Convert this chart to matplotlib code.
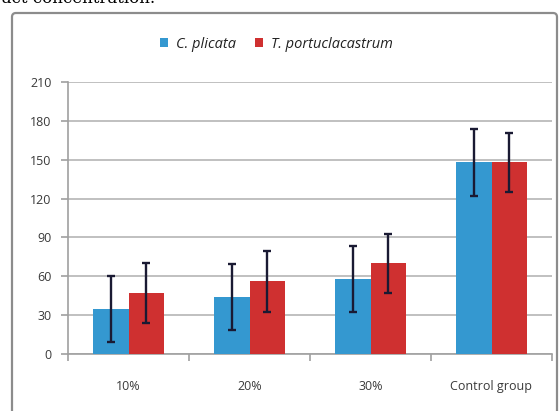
import matplotlib
matplotlib.use("Agg")
import matplotlib.pyplot as plt
import numpy as np
from matplotlib.patches import FancyBboxPatch

categories = ["10%", "20%", "30%", "Control group"]
series_names = ["C. plicata", "T. portuclacastrum"]
c_plicata = [35, 44, 58, 148]
c_plicata_err = [25.5, 25.5, 25.5, 26]
t_port = [47, 56, 70, 148]
t_port_err = [23, 23.5, 23, 23]
yticks = [0, 30, 60, 90, 120, 150, 180, 210]

W, H = 559, 411
fig = plt.figure(figsize=(W / 100, H / 100), dpi=100)
fig.patch.set_facecolor("white")

# background axes holding the outer chart frame
bg = fig.add_axes([0, 0, 1, 1], zorder=-10)
bg.set_xlim(0, W)
bg.set_ylim(H, 0)
bg.axis("off")
frame = FancyBboxPatch((12, 13), 557 - 12, H + 20,
                       boxstyle="round,pad=0,rounding_size=4",
                       facecolor="white", edgecolor="#8c8c8c", linewidth=1.6)
bg.add_patch(frame)

# caption fragment at top (cut off in the reference)
fig.text(155 / W, 1 + 10 / H, "tract concentration.", ha="right", va="top",
         fontsize=12, family="DejaVu Serif", color="black")

ax = fig.add_axes([68 / W, 1 - 354 / H, (552 - 68) / W, (354 - 82) / H])
ax.set_facecolor("none")

x = np.arange(len(categories))
bw = 0.29
blue = "#3498d0"
red = "#cf3030"
err_kw = dict(ecolor="#1a1a33", elinewidth=1.7, capsize=3.2, capthick=1.7)
ax.bar(x - bw / 2, c_plicata, bw, color=blue, yerr=c_plicata_err, error_kw=err_kw,
       label=series_names[0], zorder=3)
ax.bar(x + bw / 2, t_port, bw, color=red, yerr=t_port_err, error_kw=err_kw,
       label=series_names[1], zorder=3)

ax.set_xlim(-0.5, len(categories) - 0.5)
ax.set_ylim(0, 210)
ax.set_yticks(yticks)
ax.set_yticklabels([str(v) for v in yticks])
ax.yaxis.grid(True, color="#b5b5b5", linewidth=1.2, zorder=0)
ax.set_axisbelow(True)

ax.set_xticks(x)
ax.set_xticklabels(categories)
ax.set_xticks(np.arange(-0.5, len(categories)), minor=True)
ax.tick_params(axis="x", which="major", length=0, pad=19, labelsize=9, labelcolor="#3a3a3a")
ax.tick_params(axis="x", which="minor", length=5, color="#a0a0a0", width=1.2, direction="out")
ax.tick_params(axis="y", length=5, color="#a0a0a0", width=1.2, labelsize=9,
               labelcolor="#3a3a3a", pad=7)
for lbl in ax.get_xticklabels() + ax.get_yticklabels():
    lbl.set_family("Open Sans")

for s in ["top", "right"]:
    ax.spines[s].set_visible(False)
for s in ["left", "bottom"]:
    ax.spines[s].set_color("#a0a0a0")
    ax.spines[s].set_linewidth(1.2)

leg = fig.legend(loc="center", bbox_to_anchor=(276 / W, 1 - 44 / H), ncol=2, frameon=False,
                 prop={"family": "Open Sans", "style": "italic", "size": 10.5},
                 handlelength=0.6, handleheight=0.6, handletextpad=0.5, columnspacing=1.3)
for t in leg.get_texts():
    t.set_color("#222222")

fig.savefig("out.png", dpi=100)
